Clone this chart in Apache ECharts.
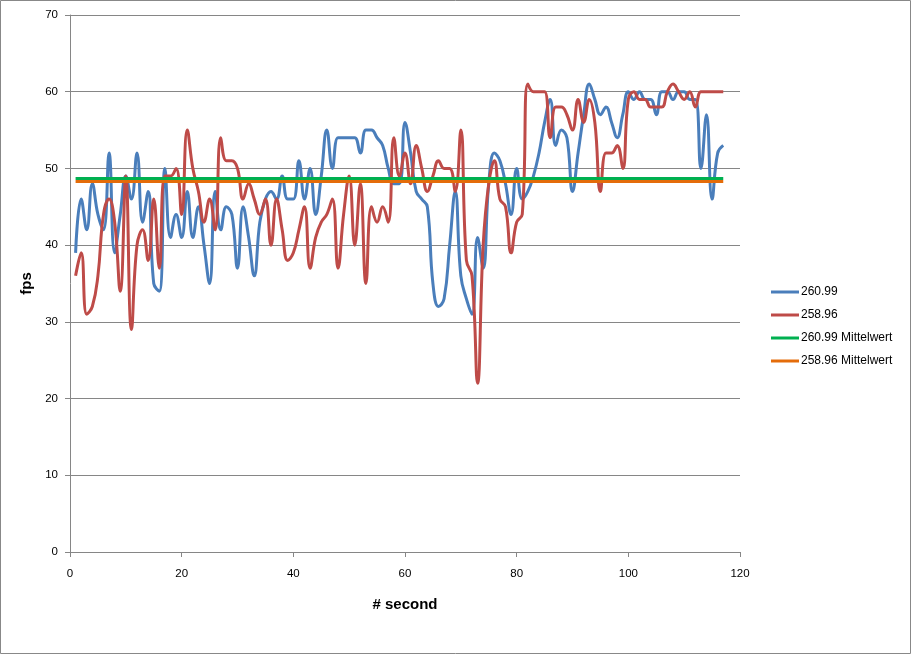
<!DOCTYPE html>
<html>
<head>
<meta charset="utf-8">
<script src="https://cdn.jsdelivr.net/npm/echarts@6/dist/echarts.min.js"></script>
<style>
html,body{margin:0;padding:0;background:#fff;}
#chart{width:912px;height:655px;}
</style>
</head>
<body>
<div id="chart"></div>
<script>
// seconds 1..117
const seconds = [];
for (let i = 1; i <= 117; i++) seconds.push(i);

const fps26099 = [
  39,46,42,48,44,42,52,39,44,49,
  46,52,43,47,35,34,50,41,44,41,
  47,41,45,40,35,47,42,45,44,37,
  45,41,36,43,46,47,46,49,46,46,
  51,46,50,44,49,55,50,54,54,54,
  54,52,55,55,54,53,50,48,48,56,
  52,47,46,45,35,32,33,40,47,36,
  33,31,41,37,48,52,51,48,44,50,
  46,47,49,52,56,59,53,55,54,47,
  52,57,61,59,57,58,56,54,57,60,
  59,60,59,59,57,60,60,59,60,60,
  59,59,50,57,46,52,53
];

const fps25896 = [
  36,39,31,32,36,44,46,43,34,49,
  29,40,42,38,46,37,49,49,50,44,
  55,50,47,43,46,42,54,51,51,50,
  46,48,46,44,46,40,46,42,38,39,
  42,45,37,41,43,44,46,37,44,49,
  40,48,35,45,43,45,43,54,49,52,
  48,53,50,47,49,51,50,50,47,55,
  38,36,22,40,48,51,46,45,39,43,
  44,61,60,60,60,54,58,58,57,55,
  59,56,59,56,47,52,52,53,50,59,
  60,59,59,58,58,58,60,61,60,59,
  60,58,60,60,60,60,60
];

const mean26099 = 48.7;
const mean25896 = 48.3;

const xTicks = [0,20,40,60,80,100,120];
const yTicks = [0,10,20,30,40,50,60,70];

const seriesNames = ['260.99','258.96','260.99 Mittelwert','258.96 Mittelwert'];
const seriesColors = ['#4a7ebb','#be4b48','#00b050','#e46c0a'];

const pair = (vals) => seconds.map((s, i) => [s, vals[i]]);
const constPair = (v) => seconds.map(s => [s, v]);

const font = 'Liberation Sans, Arial, sans-serif';
const chart = echarts.init(document.getElementById('chart'), null, {renderer: 'canvas'});

const lineSeries = (name, data, color, z, smooth) => ({
  name, type: 'line', data, smooth: smooth, symbol: 'none', z,
  lineStyle: {color, width: 3}, itemStyle: {color}
});

chart.setOption({
  animation: false,
  backgroundColor: '#ffffff',
  textStyle: {fontFamily: font, color: '#000'},
  graphic: [{
    type: 'rect', shape: {x: 0.5, y: 0.5, width: 910, height: 653},
    style: {fill: 'none', stroke: '#888888', lineWidth: 1}, silent: true
  }],
  grid: {left: 70, right: 172, top: 15, bottom: 103, containLabel: false},
  legend: {
    orient: 'vertical', left: 766, top: 281,
    icon: 'rect', itemWidth: 28, itemHeight: 3, itemGap: 11,
    textStyle: {fontSize: 12, fontFamily: font, color: '#000', padding: [0,0,0,-3]},
    data: seriesNames
  },
  xAxis: {
    type: 'value', min: 0, max: 120, interval: 20,
    name: '# second', nameLocation: 'middle', nameGap: 45,
    nameTextStyle: {fontSize: 15, fontWeight: 'bold', fontFamily: font, color: '#000'},
    axisLine: {show: true, onZero: false, lineStyle: {color: '#868686', width: 1}},
    axisTick: {show: true, length: 5, lineStyle: {color: '#868686'}},
    axisLabel: {fontSize: 11.5, color: '#000', margin: 16, fontFamily: font,
      formatter: v => xTicks.includes(v) ? String(v) : ''},
    splitLine: {show: false}
  },
  yAxis: {
    type: 'value', min: 0, max: 70, interval: 10,
    name: 'fps', nameLocation: 'middle', nameGap: 36,
    nameTextStyle: {fontSize: 15, fontWeight: 'bold', fontFamily: font, color: '#000'},
    axisLine: {show: true, lineStyle: {color: '#868686', width: 1}},
    axisTick: {show: true, length: 5, lineStyle: {color: '#868686'}},
    axisLabel: {fontSize: 11.5, color: '#000', margin: 12, fontFamily: font,
      formatter: v => yTicks.includes(v) ? String(v) : ''},
    splitLine: {show: true, lineStyle: {color: '#868686', width: 1}}
  },
  series: [
    lineSeries(seriesNames[0], pair(fps26099), seriesColors[0], 3, 0.45),
    lineSeries(seriesNames[1], pair(fps25896), seriesColors[1], 4, 0.45),
    lineSeries(seriesNames[2], constPair(mean26099), seriesColors[2], 5, false),
    lineSeries(seriesNames[3], constPair(mean25896), seriesColors[3], 6, false)
  ]
});
</script>
</body>
</html>
